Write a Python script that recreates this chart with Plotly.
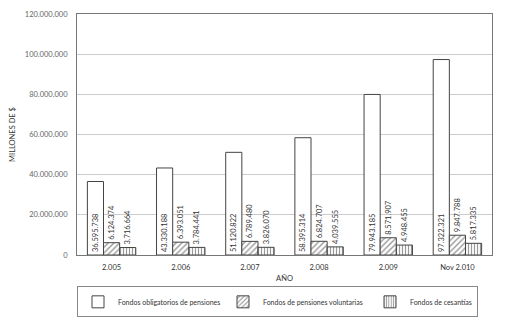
import plotly.graph_objects as go

years = ["2.005", "2.006", "2.007", "2.008", "2.009", "Nov 2.010"]
obligatorios = [36595738, 43330188, 51120822, 58395314, 79943185, 97322321]
voluntarias = [6124374, 6393051, 6789480, 6824707, 8571907, 9847788]
cesantias = [3716664, 3784441, 3826070, 4039555, 4948455, 5817335]
y_ticks = [0, 20000000, 40000000, 60000000, 80000000, 100000000, 120000000]

FONT = "Lato"
LINE = "#444444"
TXT = "#333333"

fig = go.Figure()
fig.add_trace(go.Bar(
    name="Fondos obligatorios de pensiones", x=years, y=obligatorios,
    marker=dict(color="white", line=dict(color=LINE, width=1)),
    texttemplate="%{y:,d}", textposition="inside", insidetextanchor="start",
    textangle=-90, textfont=dict(family=FONT, size=7.5, color=TXT),
    legendwidth=100,
))
fig.add_trace(go.Bar(
    name="Fondos de pensiones voluntarias", x=years, y=voluntarias,
    marker=dict(color="white", line=dict(color=LINE, width=1),
                pattern=dict(shape="/", fgcolor="#333333", bgcolor="white", size=4, solidity=0.35)),
    texttemplate="%{y:,d}", textposition="outside",
    textangle=-90, textfont=dict(family=FONT, size=7.5, color=TXT),
    legendwidth=102,
))
fig.add_trace(go.Bar(
    name="Fondos de cesantías", x=years, y=cesantias,
    marker=dict(color="white", line=dict(color=LINE, width=1),
                pattern=dict(shape="|", fgcolor="#333333", bgcolor="white", size=3, solidity=0.4)),
    texttemplate="%{y:,d}", textposition="outside",
    textangle=-90, textfont=dict(family=FONT, size=7.5, color=TXT),
    legendwidth=62,
))

fig.update_layout(
    width=501, height=312,
    margin=dict(l=69, r=17, t=6, b=65, autoexpand=False),
    paper_bgcolor="white", plot_bgcolor="white",
    separators=",.",
    barmode="group", bargap=0.3, bargroupgap=0,
    uniformtext=dict(minsize=7, mode="show"),
    font=dict(family=FONT, size=7, color=TXT),
    showlegend=True,
    legend=dict(
        orientation="h", x=0, xanchor="left", y=-0.13, yanchor="top",
        bordercolor="#888888", borderwidth=1,
        font=dict(family=FONT, size=7, color=TXT),
        itemwidth=30, tracegroupgap=0,
    ),
    xaxis=dict(
        title=dict(text="AÑO", font=dict(family=FONT, size=7.5, color=TXT), standoff=4),
        showline=True, linecolor="#777777", mirror=True,
        tickfont=dict(family=FONT, size=7.5, color=TXT), ticks="",
        ticklabelstandoff=5,
    ),
    yaxis=dict(
        title=dict(text="MILLONES DE $", font=dict(family=FONT, size=7.5, color=TXT), standoff=8),
        range=[0, 120000000], tickvals=y_ticks, tickformat=",d",
        showgrid=True, gridcolor="#cccccc", gridwidth=1,
        showline=True, linecolor="#777777", mirror=True,
        tickfont=dict(family=FONT, size=7.5, color="#666666"),
        ticks="", zeroline=False, ticklabelstandoff=7,
    ),
)

fig.write_html("out.html")
